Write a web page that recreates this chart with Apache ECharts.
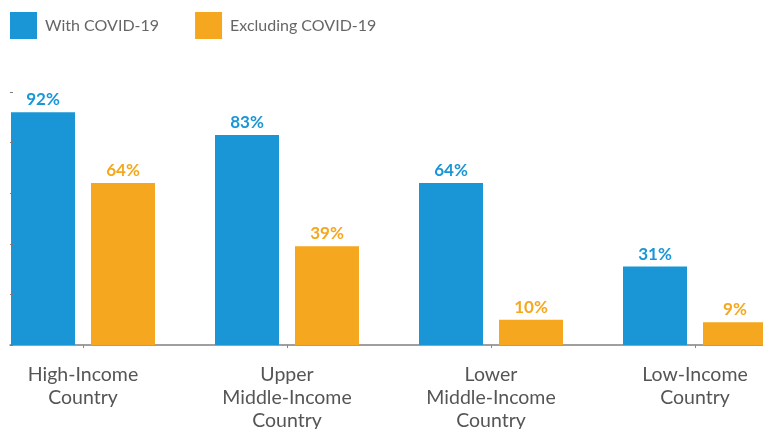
<!DOCTYPE html>
<html>
<head>
<meta charset="utf-8">
<script src="https://cdn.jsdelivr.net/npm/echarts@6/dist/echarts.min.js"></script>
<style>
  html, body { margin: 0; padding: 0; background: #ffffff; }
  #chart { width: 763px; height: 429px; }
</style>
</head>
<body>
<div id="chart"></div>
<script>
// Income groups along the horizontal axis
const categories = ['High-Income\nCountry', 'Upper\nMiddle-Income\nCountry', 'Lower\nMiddle-Income\nCountry', 'Low-Income\nCountry'];
// Share (%) per income group
const withCovid = [92, 83, 64, 31];
const excludingCovid = [64, 39, 10, 9];
const seriesNames = ['With COVID-19', 'Excluding COVID-19'];
const yTicks = [0, 20, 40, 60, 80, 100];

const BLUE = '#1a96d7';
const ORANGE = '#f5a81f';
const FONT = 'Lato';

function valueLabel(color) {
  return {
    show: true,
    position: 'top',
    distance: 4,
    formatter: '{c}%',
    color: color,
    fontFamily: FONT,
    fontWeight: 'bold',
    fontSize: 17
  };
}

const chart = echarts.init(document.getElementById('chart'), null, { renderer: 'canvas' });

chart.setOption({
  backgroundColor: '#ffffff',
  animation: false,
  legend: {
    left: 10,
    top: 12,
    padding: 0,
    itemWidth: 27,
    itemHeight: 27,
    itemGap: 36,
    icon: 'rect',
    data: seriesNames,
    textStyle: { color: '#666666', fontFamily: FONT, fontSize: 16, padding: [0, 0, 0, 3] }
  },
  grid: [
    // bar grid (category centres on a 204px pitch)
    { left: -19, right: -34, top: 92, bottom: 84, outerBoundsMode: 'none' },
    // frame grid drawing the visible axis line and left ticks
    { left: 10, right: 0, top: 92, bottom: 84, outerBoundsMode: 'none' }
  ],
  xAxis: [
    {
      type: 'category',
      gridIndex: 0,
      data: categories,
      axisLine: { show: false },
      axisTick: { show: true, alignWithLabel: true, length: 3, lineStyle: { color: '#888888', width: 1 } },
      axisLabel: { color: '#555555', fontFamily: FONT, fontSize: 19.5, lineHeight: 23, margin: 18 }
    },
    {
      type: 'value',
      gridIndex: 1,
      min: 0,
      max: 1,
      axisLine: { show: true, lineStyle: { color: '#808080', width: 1.5 } },
      axisTick: { show: false },
      axisLabel: { show: false },
      splitLine: { show: false }
    }
  ],
  yAxis: [
    {
      type: 'value',
      gridIndex: 0,
      min: 0,
      max: 100,
      interval: 20,
      show: false
    },
    {
      type: 'value',
      gridIndex: 1,
      min: yTicks[0],
      max: yTicks[yTicks.length - 1],
      interval: 20,
      z: 5,
      axisLine: { show: false },
      axisTick: { show: true, inside: true, length: 3, lineStyle: { color: '#7a7a7a', width: 1 } },
      axisLabel: { show: false },
      splitLine: { show: false }
    }
  ],
  series: [
    {
      name: seriesNames[0],
      type: 'bar',
      xAxisIndex: 0,
      yAxisIndex: 0,
      data: withCovid,
      barWidth: 64,
      barGap: '25%',
      itemStyle: { color: BLUE },
      label: valueLabel(BLUE)
    },
    {
      name: seriesNames[1],
      type: 'bar',
      xAxisIndex: 0,
      yAxisIndex: 0,
      data: excludingCovid,
      barWidth: 64,
      barGap: '25%',
      itemStyle: { color: ORANGE },
      label: valueLabel(ORANGE)
    }
  ]
});
</script>
</body>
</html>
